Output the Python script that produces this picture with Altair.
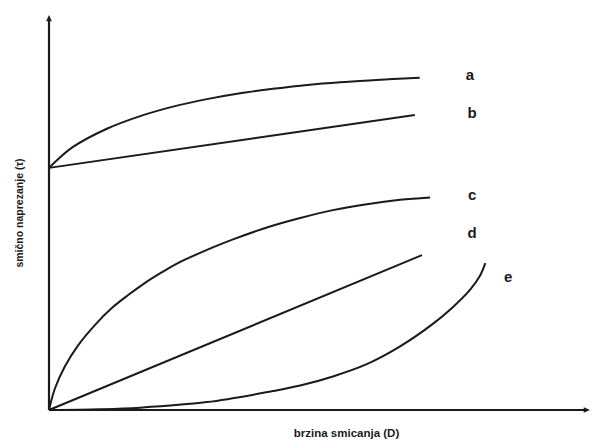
import altair as alt
import pandas as pd

# Curve data (shear rate D vs shear stress tau), in relative units
a_x = [0, 1.5, 4.4, 10.6, 16.7, 22.7, 28.9, 35.0, 41.0, 47.3, 53.3, 59.3, 67.9]
a_y = [61.3, 63.3, 66.6, 71.2, 74.4, 76.8, 78.7, 80.2, 81.3, 82.3, 83.0, 83.5, 84.1]

b_x = [0, 67.0]
b_y = [61.3, 74.7]

c_x = [0, 1.1, 2.9, 5.3, 8.4, 11.5, 14.5, 17.6, 20.7, 23.6, 29.9, 33.7, 39.9, 46.0, 52.0, 58.2, 64.3, 69.8]
c_y = [0, 5.5, 11.0, 16.3, 21.5, 25.8, 29.1, 32.2, 34.9, 37.2, 41.1, 43.2, 46.2, 48.6, 50.6, 52.1, 53.2, 53.8]

d_x = [0, 68.3]
d_y = [0, 39.2]

e_x = [0, 9.3, 16.7, 28.9, 41.0, 46.0, 52.0, 58.2, 64.3, 70.3, 74.0, 77.1, 78.9, 79.9]
e_y = [0, 0.2, 0.6, 2.0, 4.8, 6.2, 8.5, 11.6, 16.1, 21.8, 26.1, 30.4, 33.9, 37.2]

label_text = ["a", "b", "c", "d", "e"]
label_x = [77.1, 77.5, 77.5, 77.5, 84.1]
label_y = [84.8, 75.2, 54.4, 44.8, 33.7]

x_title = "brzina smicanja (D)"
y_title = "smično naprezanje (τ)"

rows = []
for name, xs_, ys_ in [("a", a_x, a_y), ("b", b_x, b_y), ("c", c_x, c_y),
                       ("d", d_x, d_y), ("e", e_x, e_y)]:
    for i, (xv, yv) in enumerate(zip(xs_, ys_)):
        rows.append({"curve": name, "x": xv, "y": yv, "order": i})
curves = pd.DataFrame(rows)
labels = pd.DataFrame({"t": label_text, "x": label_x, "y": label_y})

XMAX = 99.08
xs = alt.Scale(domain=[0, XMAX], nice=False, zero=False)
ys = alt.Scale(domain=[0, 100], nice=False, zero=False)
INK = "#1a1a1a"
FONT = "Liberation Sans"

base_x = alt.X("x:Q", scale=xs,
               axis=alt.Axis(title=x_title, domain=False, ticks=False, labels=False, grid=False,
                             titleFontSize=11.5, titleFont=FONT, titleFontWeight="bold",
                             titleColor=INK, titlePadding=17, titleX=297))
base_y = alt.Y("y:Q", scale=ys,
               axis=alt.Axis(title=y_title, domain=False, ticks=False, labels=False, grid=False,
                             titleFontSize=10.5, titleFont=FONT, titleFontWeight="bold",
                             titleColor=INK, titlePadding=25))

lines = alt.Chart(curves).mark_line(color=INK, strokeWidth=2, interpolate="catmull-rom").encode(
    x=base_x, y=base_y, detail="curve:N", order="order:Q"
)

axis_df = pd.DataFrame({"x": [0, 0], "y": [0, 0], "x2": [XMAX - 1, 0], "y2": [0, 98.5]})
axes = alt.Chart(axis_df).mark_rule(color=INK, strokeWidth=2.2).encode(
    x=alt.X("x:Q", scale=xs), y=alt.Y("y:Q", scale=ys), x2="x2:Q", y2="y2:Q"
)

arrow_up = alt.Chart(pd.DataFrame({"x": [0], "y": [100]})).mark_point(
    shape="M0,0 L-0.45,1 L0.45,1 Z", filled=True, color=INK, opacity=1, size=160
).encode(x=alt.X("x:Q", scale=xs), y=alt.Y("y:Q", scale=ys))
arrow_right = alt.Chart(pd.DataFrame({"x": [XMAX], "y": [0]})).mark_point(
    shape="M0,0 L-1,-0.45 L-1,0.45 Z", filled=True, color=INK, opacity=1, size=160
).encode(x=alt.X("x:Q", scale=xs), y=alt.Y("y:Q", scale=ys))

text = alt.Chart(labels).mark_text(
    font=FONT, fontSize=15, fontWeight="bold", color=INK, align="center", baseline="middle"
).encode(x=alt.X("x:Q", scale=xs), y=alt.Y("y:Q", scale=ys), text="t:N")

chart = alt.layer(lines, axes, arrow_up, arrow_right, text).properties(
    width=541, height=395,
    autosize=alt.AutoSizeParams(type="none"),
    padding={"left": 41, "top": 7, "right": 0, "bottom": 30},
).configure(background="white", view=alt.ViewConfig(stroke=None))

chart.save("out.html", embed_options={"renderer": "svg", "actions": False})
